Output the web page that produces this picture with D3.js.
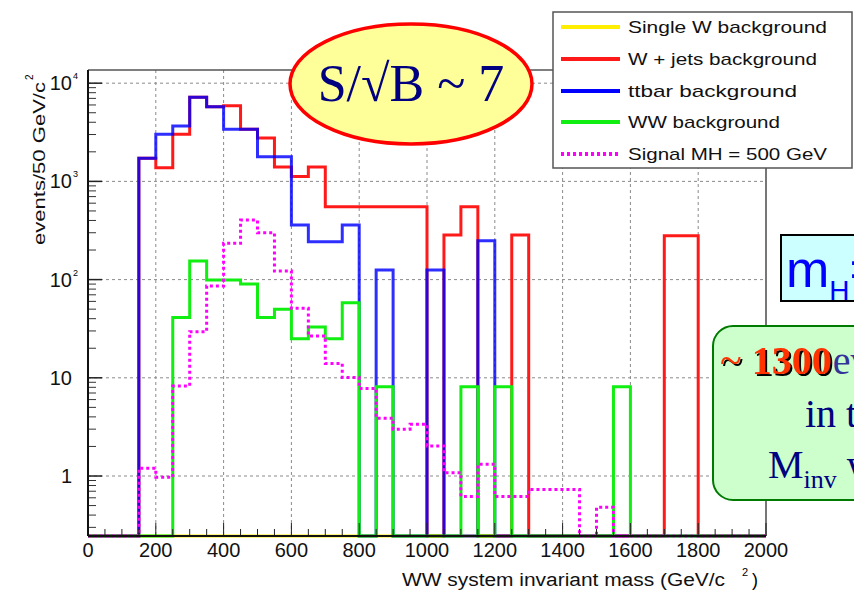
<!DOCTYPE html>
<html>
<head>
  <meta charset="utf-8">
  <title>WW system invariant mass</title>
  <style>
    body {
      margin: 0;
      background-color: #fff;
    }

    svg {
      display: block;
      font-family: 'Liberation Sans', Arial, sans-serif;
    }

    .grid line {
      stroke: #8a8a8a;
      stroke-width: 1;
      stroke-dasharray: 3, 3;
    }

    .tick-label {
      font-size: 20px;
      fill: #111;
    }

    .hist {
      fill: none;
      stroke-width: 3;
    }

    .serif {
      font-family: 'Liberation Serif', 'Times New Roman', serif;
    }
  </style>
</head>

<body>
  <div id="chart"></div>
  <script src="https://cdn.jsdelivr.net/npm/d3@7"></script>
  <script>
    // bins of 50 GeV from 0 to 2000 GeV/c^2
    var binWidth = 50;
    var xTicks = [0, 200, 400, 600, 800, 1000, 1200, 1400, 1600, 1800, 2000];
    var yTicks = [1, 10, 100, 1000, 10000];
    var yTickExp = ['', '', '2', '3', '4'];

    var singleW = [0, 0, 0, 0, 0, 0, 0, 0, 0, 0,
      0, 0, 0, 0, 0, 0, 0, 0, 0, 0,
      0, 0, 0, 0, 0, 0, 0, 0, 0, 0,
      0, 0, 0, 0, 0, 0, 0, 0, 0, 0];
    var wJets = [0, 0, 0, 1718, 1380, 3020, 7180, 5760, 5900, 3390,
      2760, 1400, 1120, 1400, 552, 552, 552, 552, 552, 552,
      0, 285, 552, 0, 0, 285, 0, 0, 0, 0,
      0, 0, 0, 0, 280, 280, 0, 0, 0, 0];
    var ttbar = [0, 0, 0, 1718, 3020, 3665, 7180, 5760, 3390, 3390,
      1780, 1780, 360, 243, 243, 360, 0, 125, 0, 0,
      125, 0, 0, 249, 0, 0, 0, 0, 0, 0,
      0, 0, 0, 0, 0, 0, 0, 0, 0, 0];
    var ww = [0, 0, 0, 0, 0, 41, 155, 99, 99, 90,
      41, 50, 25, 33, 25, 58, 0, 8.1, 0, 0,
      0, 0, 8.1, 0, 8.1, 0, 0, 0, 0, 0,
      0, 8.1, 0, 0, 0, 0, 0, 0, 0, 0];
    var signal = [0, 0, 0, 1.2, 0.97, 8.25, 29.5, 86, 234, 404,
      300, 122, 51, 26.7, 14, 10.1, 7.8, 3.87, 3.0, 3.36,
      2.02, 1.08, 0.62, 1.32, 0.62, 0.62, 0.73, 0.73, 0.73, 0,
      0.48, 0, 0, 0, 0, 0, 0, 0, 0, 0];

    var series = [
      { name: 'Single W background', values: singleW, color: '#ffee00' },
      { name: 'W + jets background', values: wJets, color: '#ff1a1a' },
      { name: 'ttbar background', values: ttbar, color: '#0000ff' },
      { name: 'WW background', values: ww, color: '#11ee11' },
      { name: 'Signal MH = 500 GeV', values: signal, color: '#ff00ff', dotted: true }
    ];

    var width = 854,
      height = 595;

    var plot = { left: 88, right: 766, top: 70, bottom: 536 };
    var yMin = 0.245,
      yMax = 13620;

    var svg = d3.select('#chart').append('svg')
      .attr('width', width)
      .attr('height', height);

    // drop shadow for the highlighted number
    svg.append('defs').append('filter')
      .attr('id', 'shadow')
      .attr('x', '-10%').attr('y', '-10%')
      .attr('width', '130%').attr('height', '130%')
      .append('feDropShadow')
      .attr('dx', 2).attr('dy', 2)
      .attr('stdDeviation', 0)
      .attr('flood-color', '#000');

    var x = d3.scaleLinear().domain([0, 2000]).range([plot.left, plot.right]);
    var y = d3.scaleLog().domain([yMin, yMax]).range([plot.bottom, plot.top]);

    function yv(v) {
      return y(Math.max(v, yMin));
    }

    // grid
    var grid = svg.append('g').attr('class', 'grid');
    grid.selectAll('line.gx')
      .data(xTicks.slice(1, -1))
      .enter().append('line')
      .attr('x1', d => x(d)).attr('x2', d => x(d))
      .attr('y1', plot.top).attr('y2', plot.bottom);
    grid.selectAll('line.gy')
      .data(yTicks)
      .enter().append('line')
      .attr('x1', plot.left).attr('x2', plot.right)
      .attr('y1', d => y(d)).attr('y2', d => y(d));

    // histograms as step lines
    var line = d3.line()
      .x(d => x(d[0]))
      .y(d => yv(d[1]))
      .curve(d3.curveStepAfter);

    series.forEach(function(s) {
      var pts = s.values.map((v, i) => [i * binWidth, v]);
      pts.push([s.values.length * binWidth, s.values[s.values.length - 1]]);
      var p = svg.append('path')
        .attr('class', 'hist')
        .attr('d', line(pts))
        .attr('stroke', s.color);
      if (s.dotted) p.attr('stroke-dasharray', '3,3');
      if (s.name.indexOf('ttbar') === 0) p.attr('stroke-opacity', 0.82);
    });

    // frame
    svg.append('line')
      .attr('x1', plot.left).attr('x2', plot.right)
      .attr('y1', plot.top).attr('y2', plot.top)
      .attr('stroke', '#555').attr('stroke-width', 1.5);
    svg.append('line')
      .attr('x1', plot.right).attr('x2', plot.right)
      .attr('y1', plot.top).attr('y2', plot.bottom)
      .attr('stroke', '#777').attr('stroke-width', 2);

    // x axis
    var minorX = d3.range(0, 2001, binWidth).filter(d => xTicks.indexOf(d) < 0);
    svg.append('g').selectAll('line')
      .data(minorX).enter().append('line')
      .attr('x1', d => x(d)).attr('x2', d => x(d))
      .attr('y1', plot.bottom).attr('y2', plot.bottom - 7)
      .attr('stroke', '#222');
    svg.append('g').selectAll('line')
      .data(xTicks).enter().append('line')
      .attr('x1', d => x(d)).attr('x2', d => x(d))
      .attr('y1', plot.bottom).attr('y2', plot.bottom - 13)
      .attr('stroke', '#222');
    svg.append('g').selectAll('text')
      .data(xTicks).enter().append('text')
      .attr('class', 'tick-label')
      .attr('x', d => x(d))
      .attr('y', plot.bottom + 21)
      .attr('text-anchor', 'middle')
      .text(d => d);

    // y axis (log)
    var minorY = [];
    [0.1, 1, 10, 100, 1000, 10000].forEach(function(dec) {
      for (var k = 2; k <= 9; k++) {
        var v = dec * k;
        if (v > yMin && v < yMax) minorY.push(v);
      }
    });
    svg.append('g').selectAll('line')
      .data(minorY).enter().append('line')
      .attr('x1', plot.left).attr('x2', plot.left + 8)
      .attr('y1', d => y(d)).attr('y2', d => y(d))
      .attr('stroke', '#333');
    svg.append('g').selectAll('line')
      .data(yTicks).enter().append('line')
      .attr('x1', plot.left).attr('x2', plot.left + 14)
      .attr('y1', d => y(d)).attr('y2', d => y(d))
      .attr('stroke', '#222').attr('stroke-width', 1.5);

    var yLab = svg.append('g').selectAll('g')
      .data(yTicks).enter().append('g');
    yLab.append('text')
      .attr('class', 'tick-label')
      .attr('x', 72)
      .attr('y', d => y(d) + 7)
      .attr('text-anchor', 'end')
      .text(d => d >= 100 ? '10' : d);
    yLab.append('text')
      .attr('x', 73)
      .attr('y', d => y(d) - 4)
      .attr('font-size', 9)
      .text((d, i) => yTickExp[i]);

    svg.append('line')
      .attr('x1', plot.left).attr('x2', plot.left)
      .attr('y1', plot.top).attr('y2', plot.bottom)
      .attr('stroke', '#111').attr('stroke-width', 2);
    svg.append('line')
      .attr('x1', plot.left).attr('x2', plot.right)
      .attr('y1', plot.bottom).attr('y2', plot.bottom)
      .attr('stroke', '#111').attr('stroke-width', 2);

    // axis titles
    svg.append('text')
      .attr('x', 402).attr('y', 586)
      .attr('font-size', 18)
      .attr('textLength', 323).attr('lengthAdjust', 'spacingAndGlyphs')
      .attr('fill', '#111')
      .text('WW system invariant mass (GeV/c');
    svg.append('text').attr('x', 742).attr('y', 576).attr('font-size', 11).text('2');
    svg.append('text').attr('x', 752).attr('y', 586).attr('font-size', 18).text(')');

    svg.append('text')
      .attr('transform', 'translate(45,245) rotate(-90)')
      .attr('font-size', 17)
      .attr('textLength', 163).attr('lengthAdjust', 'spacingAndGlyphs')
      .attr('fill', '#111')
      .text('events/50 GeV/c');
    svg.append('text')
      .attr('transform', 'translate(33,80) rotate(-90)')
      .attr('font-size', 10)
      .text('2');

    // legend
    var legendWidths = [199, 189, 169, 152, 199];
    var lg = svg.append('g');
    lg.append('rect')
      .attr('x', 553).attr('y', 12)
      .attr('width', 299).attr('height', 156)
      .attr('fill', '#fff').attr('stroke', '#555').attr('stroke-width', 1.5);
    var item = lg.selectAll('g.item')
      .data(series).enter().append('g')
      .attr('transform', (d, i) => 'translate(0,' + [27, 59, 91, 122, 154][i] + ')');
    item.append('line')
      .attr('x1', 561).attr('x2', 620)
      .attr('stroke', d => d.color)
      .attr('stroke-width', 4)
      .attr('stroke-dasharray', d => d.dotted ? '3,3' : null);
    item.append('text')
      .attr('x', 628).attr('y', 6)
      .attr('font-size', 17)
      .attr('fill', '#111')
      .attr('textLength', (d, i) => legendWidths[i])
      .attr('lengthAdjust', 'spacingAndGlyphs')
      .text(d => d.name);

    // S/sqrt(B) ellipse
    svg.append('ellipse')
      .attr('cx', 411).attr('cy', 84)
      .attr('rx', 121).attr('ry', 60)
      .attr('fill', '#ffff99').attr('stroke', '#ff0000').attr('stroke-width', 3.5);
    svg.append('text')
      .attr('class', 'serif')
      .attr('x', 411).attr('y', 101)
      .attr('text-anchor', 'middle')
      .attr('font-size', 52)
      .attr('fill', '#000080')
      .text('S/\u221AB ~ 7');

    // m_H box
    svg.append('rect')
      .attr('x', 781).attr('y', 235)
      .attr('width', 90).attr('height', 66)
      .attr('fill', '#ccffff').attr('stroke', '#000').attr('stroke-width', 2);
    var mh = svg.append('text')
      .attr('x', 786).attr('y', 287)
      .attr('fill', '#0000ff')
      .attr('font-size', 52);
    mh.append('tspan').text('m');
    mh.append('tspan').attr('font-size', 28).attr('dy', 13).text('H');
    mh.append('tspan').attr('dy', -13).text('=500 GeV');

    // events box
    svg.append('rect')
      .attr('x', 713).attr('y', 326)
      .attr('width', 170).attr('height', 174)
      .attr('rx', 20)
      .attr('fill', '#ccffcc').attr('stroke', '#007a00').attr('stroke-width', 2);
    var num = svg.append('text')
      .attr('class', 'serif')
      .attr('x', 720).attr('y', 374)
      .attr('font-size', 40)
      .attr('fill', '#ff3300')
      .attr('filter', 'url(#shadow)');
    num.append('tspan').text('~ ');
    num.append('tspan').attr('font-weight', 'bold').text('1300');
    svg.append('text')
      .attr('class', 'serif')
      .attr('x', 720 + num.node().getComputedTextLength() + 1).attr('y', 374)
      .attr('font-size', 40)
      .attr('fill', '#333399')
      .text('events');
    svg.append('text')
      .attr('class', 'serif')
      .attr('x', 805).attr('y', 427)
      .attr('font-size', 40)
      .attr('fill', '#000080')
      .text('in the');
    var l3 = svg.append('text')
      .attr('class', 'serif')
      .attr('x', 768).attr('y', 478)
      .attr('font-size', 40)
      .attr('fill', '#000080');
    l3.append('tspan').text('M');
    l3.append('tspan').attr('font-size', 26).attr('dy', 10).text('inv');
    l3.append('tspan').attr('dy', -10).text(' window');
  </script>
</body>

</html>
